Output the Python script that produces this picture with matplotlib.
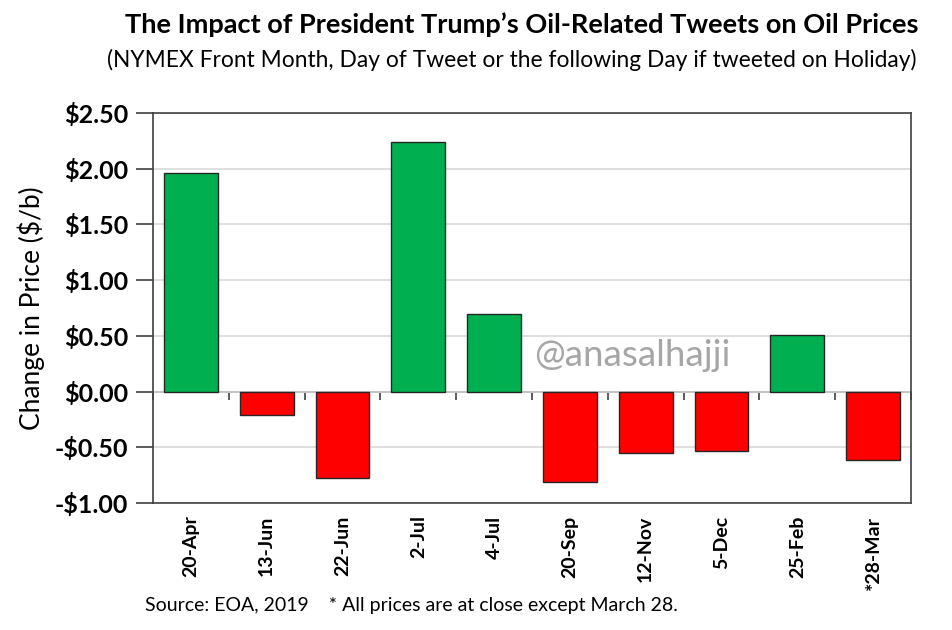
import matplotlib
matplotlib.use("Agg")
import matplotlib.pyplot as plt
import numpy as np

categories = ["20-Apr", "13-Jun", "22-Jun", "2-Jul", "4-Jul", "20-Sep", "12-Nov", "5-Dec", "25-Feb", "*28-Mar"]
values = [1.96, -0.21, -0.78, 2.24, 0.70, -0.81, -0.55, -0.53, 0.51, -0.61]
yticks = [-1.0, -0.5, 0.0, 0.5, 1.0, 1.5, 2.0, 2.5]

title = "The Impact of President Trump\u2019s Oil-Related Tweets on Oil Prices"
subtitle = "(NYMEX Front Month, Day of Tweet or the following Day if tweeted on Holiday)"
ylabel = "Change in Price ($/b)"
source = "Source: EOA, 2019    * All prices are at close except March 28."
watermark = "@anasalhajji"

plt.rcParams['font.family'] = ['Lato', 'DejaVu Sans']

GREEN = "#00B050"
RED = "#FF0000"
EDGE = "#262626"
FRAME = "#404040"

fig = plt.figure(figsize=(9.53, 6.30), dpi=100)
ax = fig.add_axes([153/953, 1 - 503/630, (911-153)/953, (503-113)/630])

x = np.arange(len(categories))
colors = [GREEN if v >= 0 else RED for v in values]
ax.bar(x, values, width=0.71, color=colors, edgecolor=EDGE, linewidth=1.0, zorder=3)

ax.set_xlim(-0.5, len(categories) - 0.5)
ax.set_ylim(-1.0, 2.5)
ax.set_yticks(yticks)
ax.set_yticklabels([("-$%.2f" % abs(t)) if t < 0 else ("$%.2f" % t) for t in yticks],
                   fontsize=18, fontweight='bold')
ax.yaxis.grid(True, color="#D9D9D9", linewidth=1.2, zorder=0)
ax.set_axisbelow(True)
ax.tick_params(axis='y', direction='out', length=12, width=1.2, color=FRAME, pad=6)

ax.set_xticks(x)
ax.set_xticklabels(categories, rotation=90, fontsize=14, fontweight='bold')
ax.tick_params(axis='x', length=0, pad=9)

for s in ax.spines.values():
    s.set_color(FRAME)
    s.set_linewidth(1.2)

# category axis at zero with boundary ticks
sec = ax.secondary_xaxis(location=(0 - (-1.0)) / 3.5)
sec.set_xticks(np.arange(len(categories) + 1) - 0.5)
sec.set_xticklabels([])
sec.tick_params(axis='x', direction='out', length=6, width=1.2, color=FRAME)
sec.spines['bottom'].set_color(FRAME)
sec.spines['bottom'].set_linewidth(1.2)

ax.set_ylabel(ylabel, fontsize=19, labelpad=7)

fig.text(522/953, 1 - 25/630, title, ha='center', va='center', fontsize=19.5, fontweight='bold')
fig.text(512/953, 1 - 60/630, subtitle, ha='center', va='center', fontsize=16.4)
fig.text(145/953, 1 - 606/630, source, ha='left', va='center', fontsize=14)
fig.text(632/953, 1 - 355/630, watermark, ha='center', va='center', fontsize=26.5, color="#A6A6A6")

fig.savefig("out.png", dpi=100)
